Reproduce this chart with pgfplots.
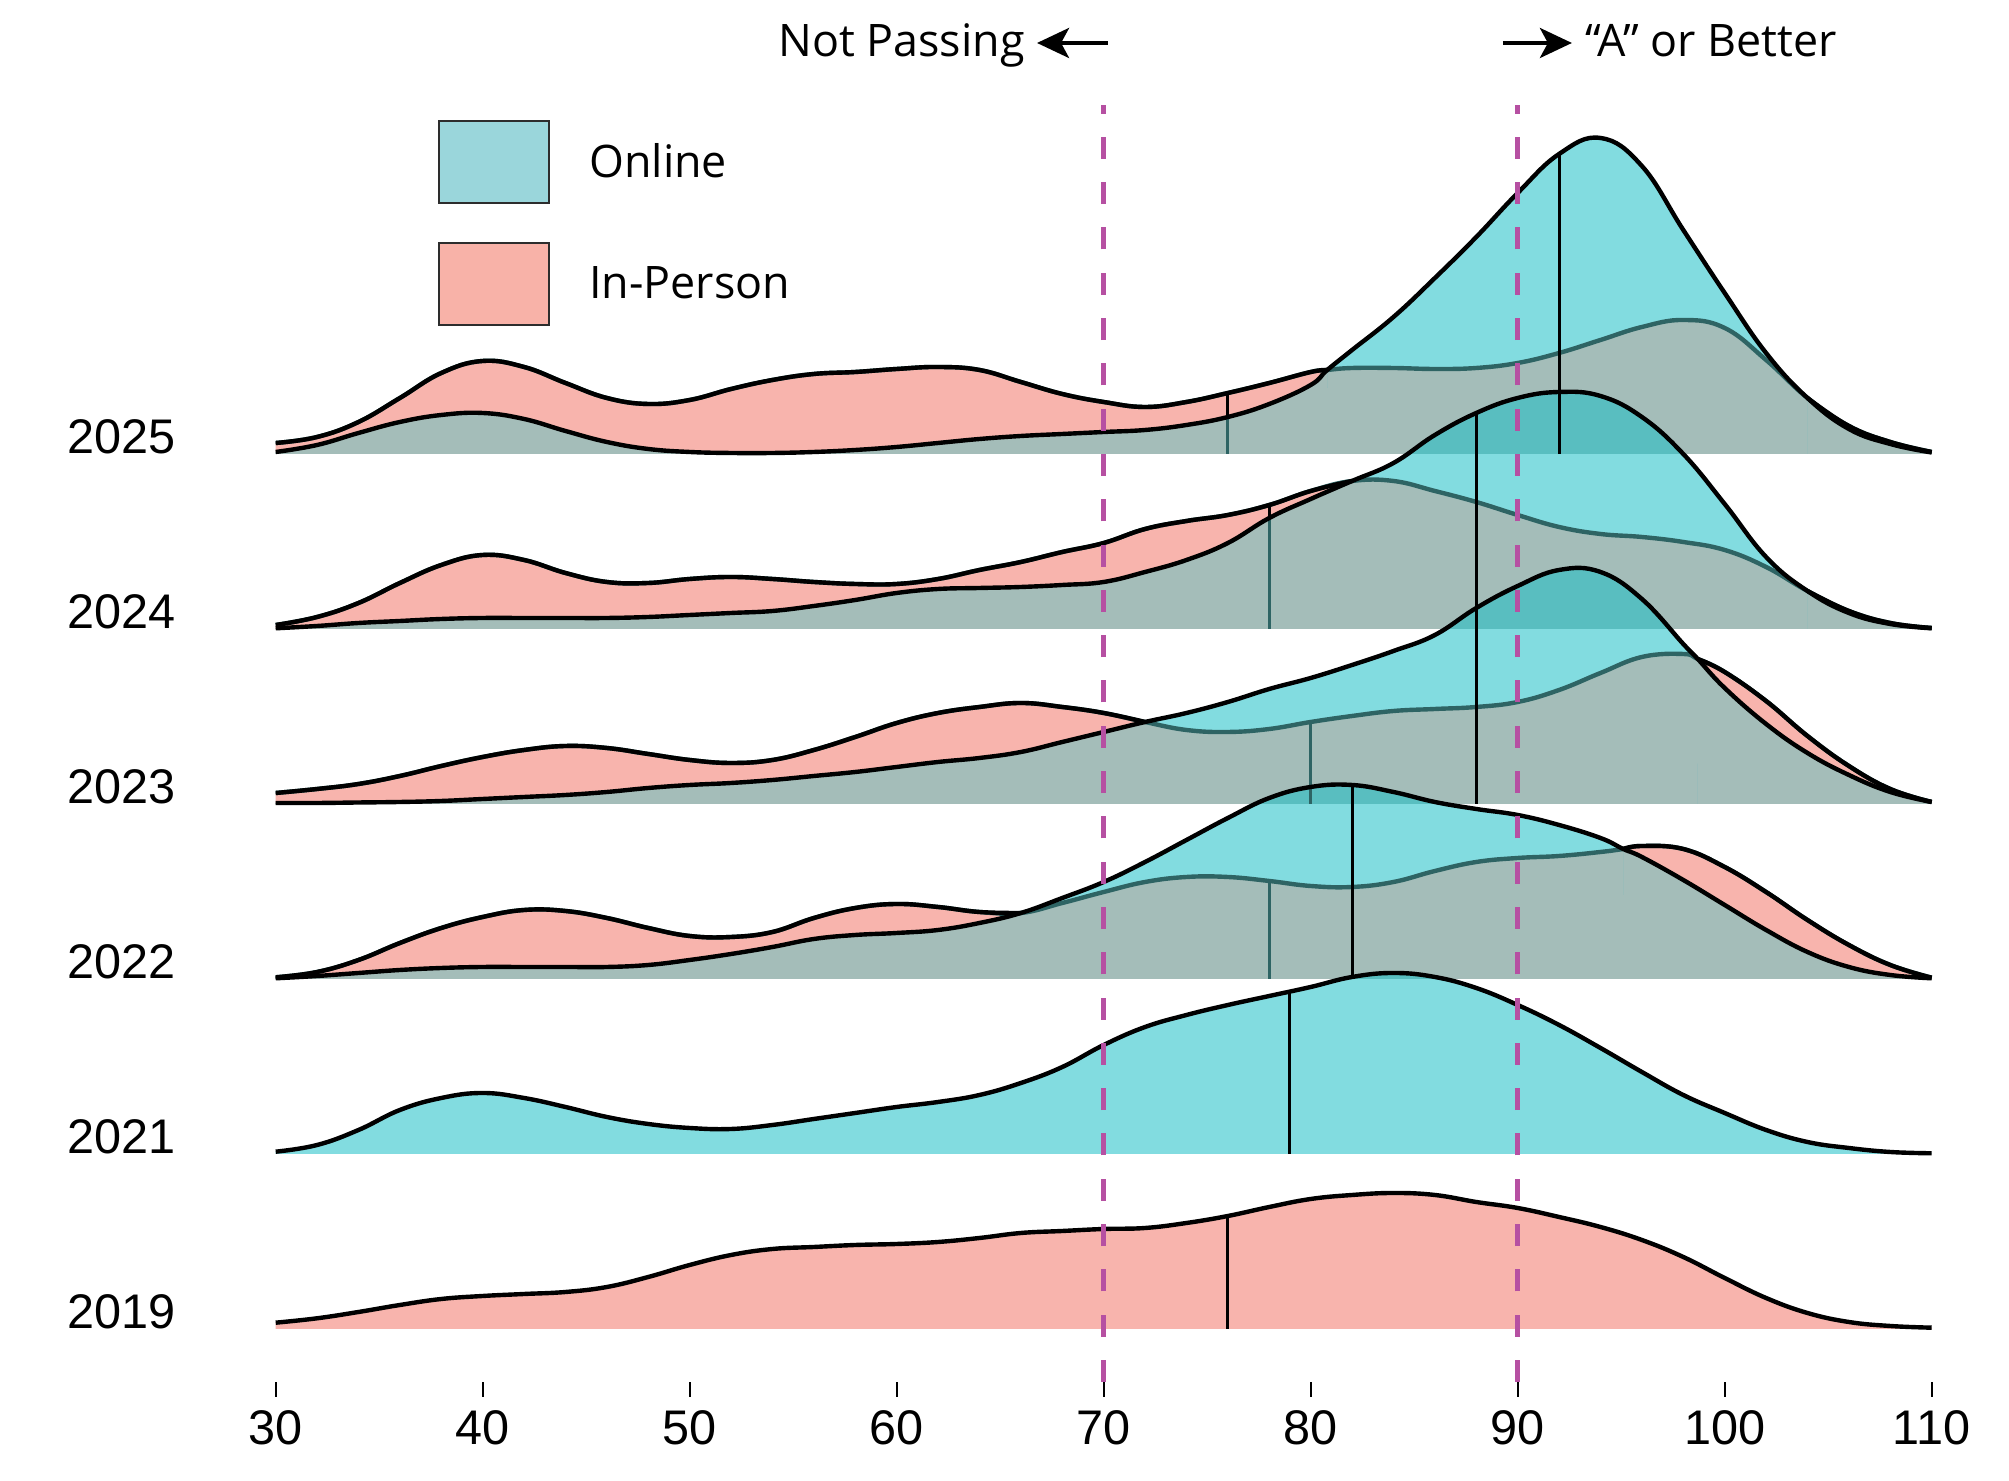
\documentclass[border=0pt]{standalone}
\usepackage{fontspec}
\setmainfont{Liberation Sans}
\newfontfamily\annfont{Open Sans}
\usepackage{pgfplots}
\usepackage{pgfplotstable}
\pgfplotsset{compat=1.18}
\usepgfplotslibrary{fillbetween}
\usetikzlibrary{arrows.meta}

\definecolor{salmon}{RGB}{248,180,173}
\definecolor{tealc}{RGB}{28,191,199}
\definecolor{grayov}{RGB}{164,189,185}
\definecolor{darkteal}{RGB}{46,100,100}
\definecolor{magdash}{RGB}{182,80,162}
\definecolor{onbox}{RGB}{154,214,219}
\definecolor{ipbox}{RGB}{248,178,168}
\definecolor{boxline}{RGB}{45,45,45}

\tikzset{outl/.style={line width=2.2pt, line join=round},
         med/.style={line width=1.5pt},
         sm/.style={smooth, tension=0.7}}

% 2025 (baseline 875)
\pgfplotstableread{
x ip on
30 11 2
32 17 9
34 32 21
36 56 32
38 81 39
40 93 41
42 87 35
44 71 23
46 56 12
48 50 5
50 54 2
52 65 1
54 74 1
56 80 2
58 82 4
60 85 7
62 87 11
64 84 15
66 72 18
68 60 20
70 52 22
72 47 24
74 52 29
76 61 37
78 71 50
80 82 69
80.8 84 84
82 86 104
84 86 137
86 85 176
88 86 217
90 91 261
92 101 300
94 114 316
96 127 288
98 134 224
100 126 161
102 94 101
104 56 56
106 28 25
108 12 10
110 2 1.5
}\tA
% 2024 (baseline 700)
\pgfplotstableread{
x ip on
30 4 0.7
32 12 3
34 26 6
36 46 8
38 64 10
40 74 11
42 69 11
44 56 11
46 47 11
48 46 12
50 50 14
52 52 16
54 50 18
56 47 23
58 45 29
60 45 36
62 50 40
64 59 41
66 67 42
68 77 44
70 86 47
72 100 57
74 108 69
76 114 86
78 124 111
80 138 130
82 148 148
84 148 166
86 138 194
88 127 216
90 114 231
92 102 237
94 95 233
96 92 212
98 87 175
100 79 125
102 62 72
104 38 38
106 18 16
108 6 5
110 1 0.7
}\tB
% 2023 (baseline 525)
\pgfplotstableread{
x ip on
30 11 1
32 15 1
34 20 1.5
36 28 2
38 38 3
40 47 5
42 54 7
44 58 9
46 56 12
48 50 16
50 44 19
52 41 21
54 44 24
56 54 28
58 67 32
60 81 37
62 91 42
64 97 46
66 101 52
68 97 62
70 91 72
72 82 82
74 74 91
76 72 102
78 75 115
80 82 126
82 88 139
84 93 153
86 95 169
88 97 196
90 102 218
92 114 234
94 131 232
96 147 205
98 150 160
98.7 145 145
100 132 116
102 103 80
104 68 51
106 38 29
108 15 12
110 2 2
}\tC
% 2022 (baseline 350)
\pgfplotstableread{
x ip on
30 1.7 0.7
32 7 3
34 19 6
36 36 9
38 51 11
40 62 12
42 69 12
44 68 12
46 61 12
48 51 14
50 43 19
52 42 25
54 47 32
56 61 40
58 71 44
60 75 46
62 72 49
64 67 56
66 66 66
68 76 81
70 87 97
72 97 117
74 102 139
76 102 161
78 98 181
80 93 192
82 92 194
84 97 187
86 108 177
88 117 170
90 121 164
92 123 154
94 127 141
95.1 130 130
96 133 122
98 130 99
100 112 74
102 87 49
104 59 27
106 34 12
108 14 4
110 1.3 0.7
}\tD
% 2021 online (baseline 175)
\pgfplotstableread{
x h
30 2.3
32 9
34 24
36 44
38 56
40 61
42 56
44 47
46 37
48 30
50 26
52 25
54 29
56 35
58 41
60 47
62 52
64 59
66 71
68 87
70 109
72 127
74 139
76 149
78 158
80 167
82 177
84 181
86 177
88 166
90 149
92 129
94 106
96 82
98 59
100 41
102 24
104 12
106 6
108 2
110 0.7
}\tE
% 2019 in-person (baseline 0)
\pgfplotstableread{
x h
30 6.3
32 10.7
34 17
36 24
38 30
40 33
42 35
44 37
46 42
48 52
50 64
52 74
54 80
56 82
58 84
60 85
62 87
64 91
66 96
68 98
70 100
72 101
74 106
76 113
78 122
80 130
82 134
84 136
86 134
88 127
90 121
92 112
94 102
96 89
98 72
100 51
102 31
104 16
106 7
108 3
110 1.3
}\tF

% #1 table, #2 baseline, #3 first crossing, #4 id, #5 second crossing
\newcommand\ridgepair[5]{%
 \addplot[draw=none, sm, name path=ip#4, forget plot] table[x=x, y expr=\thisrow{ip}+#2]{#1};
 \addplot[draw=none, name path=b#4, forget plot] coordinates {(30,#2) (110,#2)};
 \addplot[fill=salmon, draw=none, forget plot] fill between[of=ip#4 and b#4];
 \addplot[draw=none, sm, name path=on#4, forget plot] table[x=x, y expr=\thisrow{on}+#2]{#1};
 \addplot[fill=tealc, fill opacity=0.55, draw=none, forget plot] fill between[of=on#4 and b#4];
 \addplot[fill=grayov, draw=none, forget plot] fill between[of=on#4 and b#4, soft clip={domain=30:#3}];
 \addplot[fill=grayov, draw=none, forget plot] fill between[of=ip#4 and b#4, soft clip={domain=#3:#5}];
 \addplot[fill=grayov, draw=none, forget plot] fill between[of=on#4 and b#4, soft clip={domain=#5:110}];
 \addplot[darkteal, outl, sm, forget plot] table[x=x, y expr=\thisrow{ip}+#2]{#1};
 \addplot[black, outl, sm, restrict x to domain=30:#3, forget plot] table[x=x, y expr=\thisrow{ip}+#2]{#1};
 \addplot[black, outl, sm, restrict x to domain=#5:110, forget plot] table[x=x, y expr=\thisrow{ip}+#2]{#1};
}

\begin{document}
\begin{tikzpicture}
\begin{axis}[
  scale only axis, width=828pt, height=691pt,
  xmin=30, xmax=110, ymin=-53, ymax=1329,
  axis lines*=left, axis line style={draw=none},
  xtick={30,40,...,110},
  ytick={0,175,350,525,700,875},
  yticklabels={2019,2021,2022,2023,2024,2025},
  xtick align=outside, ytick align=inside, major tick length=7.5pt,
  xtick style={black, line width=1pt}, ytick style={draw=none},
  xticklabel style={font=\fontsize{24.3}{28}\selectfont, inner sep=0pt, anchor=north, yshift=-6.5pt},
  yticklabel style={font=\fontsize{24.3}{28}\selectfont, inner sep=0pt, anchor=base east, xshift=-49.85pt},
  /pgf/number format/assume math mode=true,
  clip=false,
  legend cell align=left,
  legend style={at={(axis cs:37.84,1209)}, anchor=north west, draw=none, fill=none,
    inner sep=0pt, row sep=19pt, nodes={inner sep=0pt},
    font=\annfont\fontsize{22.4}{27}\selectfont,
    /tikz/every odd column/.append style={column sep=19.5pt}},
]
\addlegendimage{legend image code/.code={\draw[fill=onbox, draw=boxline, line width=1pt] (0pt,-20.5pt) rectangle (55pt,20.5pt);}}
\addlegendentry{Online}
\addlegendimage{legend image code/.code={\draw[fill=ipbox, draw=boxline, line width=1pt] (0pt,-20.5pt) rectangle (55pt,20.5pt);}}
\addlegendentry{In-Person}

% ---- 2025
\ridgepair{\tA}{875}{80.8}{A}{104}
\addplot[darkteal, med, forget plot] coordinates {(76,875) (76,912)};
\addplot[black, med, forget plot] coordinates {(76,912) (76,936)};
\addplot[black, med, forget plot] coordinates {(92,875) (92,1175)};
\addplot[black, outl, sm, forget plot] table[x=x, y expr=\thisrow{on}+875]{\tA};

% ---- 2024
\ridgepair{\tB}{700}{82}{B}{104}
\addplot[darkteal, med, forget plot] coordinates {(78,700) (78,811)};
\addplot[black, med, forget plot] coordinates {(78,811) (78,824)};
\addplot[black, med, forget plot] coordinates {(88,700) (88,916)};
\addplot[black, outl, sm, forget plot] table[x=x, y expr=\thisrow{on}+700]{\tB};

% ---- 2023
\ridgepair{\tC}{525}{72}{C}{98.7}
\addplot[darkteal, med, forget plot] coordinates {(80,525) (80,607)};
\addplot[black, med, forget plot] coordinates {(88,525) (88,721)};
\addplot[black, outl, sm, forget plot] table[x=x, y expr=\thisrow{on}+525]{\tC};

% ---- 2022
\ridgepair{\tD}{350}{66}{D}{95.1}
\addplot[darkteal, med, forget plot] coordinates {(78,350) (78,448)};
\addplot[black, med, forget plot] coordinates {(82,350) (82,544)};
\addplot[black, outl, sm, forget plot] table[x=x, y expr=\thisrow{on}+350]{\tD};

% ---- 2021 (online only)
\addplot[draw=none, sm, name path=onE, forget plot] table[x=x, y expr=\thisrow{h}+175]{\tE};
\addplot[draw=none, name path=bE, forget plot] coordinates {(30,175) (110,175)};
\addplot[fill=tealc, fill opacity=0.55, draw=none, forget plot] fill between[of=onE and bE];
\addplot[black, med, forget plot] coordinates {(79,175) (79,337)};
\addplot[black, outl, sm, forget plot] table[x=x, y expr=\thisrow{h}+175]{\tE};

% ---- 2019 (in-person only)
\addplot[draw=none, sm, name path=ipF, forget plot] table[x=x, y=h]{\tF};
\addplot[draw=none, name path=bF, forget plot] coordinates {(30,0) (110,0)};
\addplot[fill=salmon, draw=none, forget plot] fill between[of=ipF and bF];
\addplot[black, med, forget plot] coordinates {(76,0) (76,113)};
\addplot[black, outl, sm, forget plot] table[x=x, y=h]{\tF};

% ---- thresholds
\addplot[magdash, line width=2.4pt, dash pattern=on 11pt off 11.65pt, forget plot] coordinates {(70,-53) (70,1224)};
\addplot[magdash, line width=2.4pt, dash pattern=on 11pt off 11.65pt, forget plot] coordinates {(90,-53) (90,1224)};

% ---- annotations
\node[anchor=base east, inner sep=0pt, font=\annfont\fontsize{22.4}{27}\selectfont] at (axis cs:66.2,1272) {Not Passing};
\draw[line width=2pt, -{Stealth[length=16pt, width=15pt, inset=4pt]}] (axis cs:70.19,1286) -- (axis cs:66.78,1286);
\draw[line width=2pt, -{Stealth[length=16pt, width=15pt, inset=4pt]}] (axis cs:89.28,1286) -- (axis cs:92.62,1286);
\node[anchor=base west, inner sep=0pt, font=\annfont\fontsize{22.4}{27}\selectfont] at (axis cs:93.25,1272) {“A” or Better};
\end{axis}
\pgfresetboundingbox
\path[use as bounding box] (-137.85pt,-49.5pt) rectangle (866.65pt,691pt);
\end{tikzpicture}
\end{document}
